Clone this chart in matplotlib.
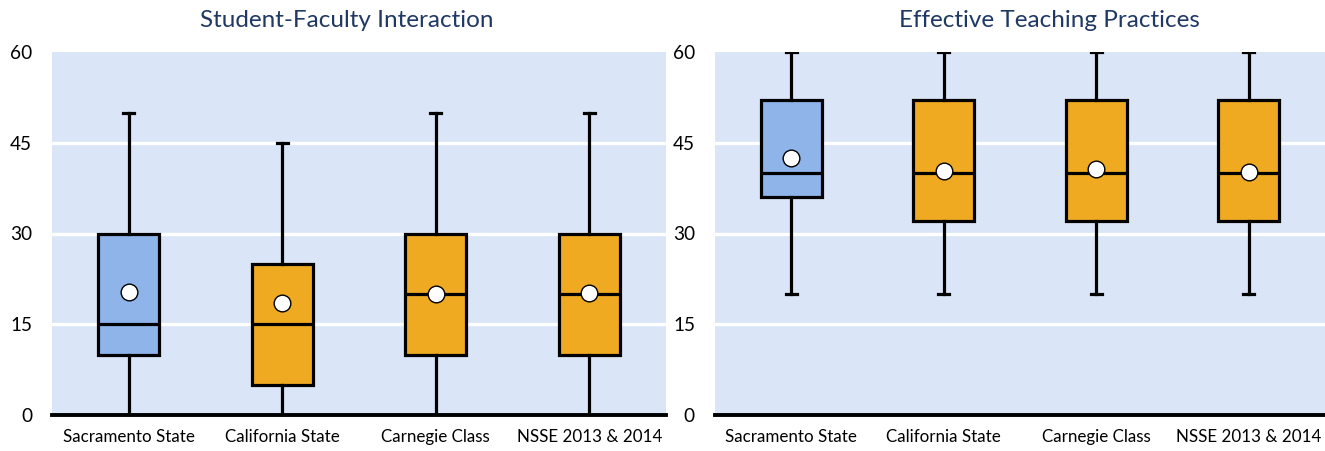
import matplotlib
matplotlib.use("Agg")
import matplotlib.pyplot as plt

plt.rcParams['font.family'] = ['Lato', 'DejaVu Sans']

categories = ["Sacramento State", "California State", "Carnegie Class", "NSSE 2013 & 2014"]
titles = ["Student-Faculty Interaction", "Effective Teaching Practices"]

# left panel
sfi_low = [0, 0, 0, 0]
sfi_q1 = [10, 5, 10, 10]
sfi_med = [15, 15, 20, 20]
sfi_q3 = [30, 25, 30, 30]
sfi_high = [50, 45, 50, 50]
sfi_mean = [20.4, 18.5, 20.0, 20.2]

# right panel
etp_low = [20, 20, 20, 20]
etp_q1 = [36, 32, 32, 32]
etp_med = [40, 40, 40, 40]
etp_q3 = [52, 52, 52, 52]
etp_high = [60, 60, 60, 60]
etp_mean = [42.4, 40.4, 40.7, 40.2]

yticks = [0, 15, 30, 45, 60]
colors = ["#8EB4EA", "#EFAA22", "#EFAA22", "#EFAA22"]
bg = "#DAE5F7"
title_color = "#1F3864"

W, H = 1325, 451
fig = plt.figure(figsize=(W / 100, H / 100), dpi=100)
ax1 = fig.add_axes([52/W, 1-415/H, 614/W, 363/H])
ax2 = fig.add_axes([715/W, 1-415/H, 610/W, 363/H])

panels = [
    (ax1, sfi_low, sfi_q1, sfi_med, sfi_q3, sfi_high, sfi_mean),
    (ax2, etp_low, etp_q1, etp_med, etp_q3, etp_high, etp_mean),
]
title_x = [(346.5 - 52) / 614, (1049.5 - 715) / 610]
title_objs = []

for i, (ax, lo, q1, med, q3, hi, mn) in enumerate(panels):
    ax.set_facecolor(bg)
    stats = []
    for k in range(len(categories)):
        stats.append(dict(whislo=lo[k], q1=q1[k], med=med[k], q3=q3[k], whishi=hi[k],
                          mean=mn[k], fliers=[], label=categories[k]))
    pos = [k + 0.5 for k in range(len(categories))]
    bp = ax.bxp(stats, positions=pos, widths=0.4, patch_artist=True, showmeans=True,
                capwidths=0.07,
                boxprops=dict(linewidth=2.3, edgecolor='black'),
                medianprops=dict(color='black', linewidth=2.3),
                whiskerprops=dict(color='black', linewidth=2.3),
                capprops=dict(color='black', linewidth=2.3),
                meanprops=dict(marker='o', markerfacecolor='white', markeredgecolor='black',
                               markersize=12, markeredgewidth=1.0),
                zorder=3)
    for patch, c in zip(bp['boxes'], colors):
        patch.set_facecolor(c)
    ax.set_xlim(0, len(categories))
    ax.set_ylim(0, 60)
    ax.set_yticks(yticks)
    ax.set_yticklabels([str(t) for t in yticks], fontsize=13)
    ax.set_xticks(pos)
    ax.set_xticklabels(categories, fontsize=12.3)
    ax.tick_params(axis='x', length=0, pad=10)
    ax.tick_params(axis='y', length=0, pad=14.4)
    for y in [15, 30, 45]:
        ax.axhline(y, color='white', linewidth=2.4, zorder=1)
    for s in ['top', 'left', 'right']:
        ax.spines[s].set_visible(False)
    ax.spines['bottom'].set_linewidth(2.8)
    ax.spines['bottom'].set_color('black')
    ax.spines['bottom'].set_zorder(5)
    t = ax.set_title(titles[i], fontsize=16, color=title_color, pad=18, x=title_x[i])
    title_objs.append(t)

# fit font sizes to the reference text widths (pixels)
fig.canvas.draw()
r = fig.canvas.get_renderer()

def fit(text, target):
    w = text.get_window_extent(r).width
    if w > 0:
        text.set_fontsize(text.get_fontsize() * target / w)
    return text.get_fontsize()

fs_title = fit(title_objs[0], 295)
title_objs[1].set_fontsize(fs_title)
fs_x = fit(ax1.get_xticklabels()[0], 133)
fs_y = fit(ax1.get_yticklabels()[-1], 22)
for ax in (ax1, ax2):
    ax.tick_params(axis='x', labelsize=fs_x)
    ax.tick_params(axis='y', labelsize=fs_y)

fig.savefig("out.png", dpi=100)
